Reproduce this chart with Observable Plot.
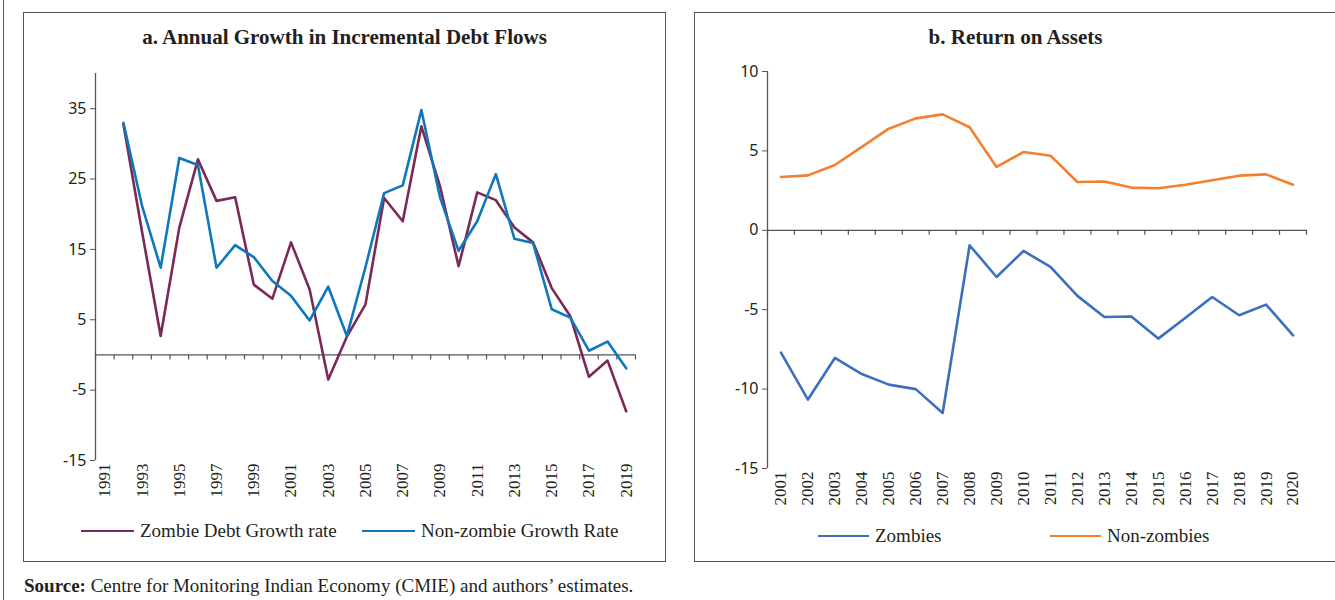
<!DOCTYPE html>
<html><head><meta charset="utf-8">
<script src="https://cdn.jsdelivr.net/npm/d3@7"></script>
<script src="https://cdn.jsdelivr.net/npm/@observablehq/plot@0.6"></script>
<style>
body{margin:0;width:1335px;height:600px;position:relative;overflow:hidden;background:#fff;font-family:"Liberation Serif",serif;color:#231f20;}
.outer{position:absolute;left:3px;top:0;width:0;height:600px;border-left:1.5px solid #555}
.box{position:absolute;border:1.5px solid #555;box-sizing:border-box;top:12px;height:550px}
.title{position:absolute;font-weight:bold;font-size:21px;text-align:center;top:25px}
.leg{position:absolute;display:flex;align-items:center;font-size:19px;white-space:nowrap;line-height:22px}
.sw{display:inline-block;height:0;border-top:2.5px solid;margin-right:6px}
.chart{position:absolute}
.src{position:absolute;left:24px;top:575px;font-size:19px;white-space:nowrap}
</style></head><body>
<div class="outer"></div>
<div class="box" style="left:23px;width:643px"></div>
<div class="box" style="left:694px;width:645px"></div>
<div class="title" style="left:23px;width:643px">a. Annual Growth in Incremental Debt Flows</div>
<div class="title" style="left:694px;width:643px">b. Return on Assets</div>
<div id="chartA" class="chart" style="left:40px;top:60px"></div>
<div id="chartB" class="chart" style="left:715px;top:60px"></div>
<div id="legA"></div>
<div id="legB"></div>
<div class="src"><b>Source:</b> Centre for Monitoring Indian Economy (CMIE) and authors’ estimates.</div>
<script>
// ---- Panel a data ----
const yearsA = [1992,1993,1994,1995,1996,1997,1998,1999,2000,2001,2002,2003,2004,2005,2006,2007,2008,2009,2010,2011,2012,2013,2014,2015,2016,2017,2018,2019];
const zombieDebtGrowth = [32.8,17.5,2.7,18.1,27.8,21.9,22.4,10.0,8.0,16.0,9.3,-3.5,2.6,7.2,22.3,19.0,32.5,24.0,12.6,23.1,22.0,18.1,16.0,9.5,5.5,-3.1,-0.8,-8.0];
const nonZombieGrowth = [33.0,21.2,12.4,28.0,27.0,12.4,15.6,13.9,10.5,8.4,4.9,9.7,2.7,12.5,23.0,24.1,34.8,22.4,14.8,19.0,25.7,16.5,15.9,6.5,5.3,0.6,1.9,-1.9];
const categoriesA = [1991,1992,1993,1994,1995,1996,1997,1998,1999,2000,2001,2002,2003,2004,2005,2006,2007,2008,2009,2010,2011,2012,2013,2014,2015,2016,2017,2018,2019];
const xTickLabelsA = [1991,1993,1995,1997,1999,2001,2003,2005,2007,2009,2011,2013,2015,2017,2019];
const yTicksA = [-15,-5,5,15,25,35];
const yDomainA = [-15,40];
const seriesA = ["Zombie Debt Growth rate","Non-zombie Growth Rate"];

// ---- Panel b data ----
const yearsB = [2001,2002,2003,2004,2005,2006,2007,2008,2009,2010,2011,2012,2013,2014,2015,2016,2017,2018,2019,2020];
const zombiesROA = [-7.7,-10.66,-8.04,-9.05,-9.72,-10.0,-11.5,-0.94,-2.94,-1.3,-2.31,-4.13,-5.46,-5.43,-6.82,-5.52,-4.2,-5.35,-4.68,-6.61];
const nonZombiesROA = [3.36,3.46,4.11,5.25,6.4,7.05,7.3,6.49,3.99,4.93,4.7,3.04,3.07,2.69,2.65,2.87,3.15,3.44,3.52,2.87];
const xTickLabelsB = yearsB;
const yTicksB = [-15,-10,-5,0,5,10];
const yDomainB = [-15,10];
const seriesB = ["Zombies","Non-zombies"];

const colA = ["#7a2a58","#0f77bd"];
const colB = ["#3c6fbd","#f4802f"];
const axisCol = "#555";
const textCol = "#231f20";

function panel({cats, years, s1, s2, cols, xTicks, yTicks, yDomain, width, height, ml, mr, mt, mb}) {
  const rows = [];
  years.forEach((y,i)=>{ rows.push({year:y, v:s1[i], s:0}); rows.push({year:y, v:s2[i], s:1}); });
  const lo = cats[0]-0.5, hi = cats[cats.length-1]+0.5;
  const bounds = cats.map(c=>c-0.5).concat([hi]);
  const plotH = height - mt - mb;
  const tickLen = 5 * (yDomain[1]-yDomain[0]) / plotH;
  return Plot.plot({
    width, height, marginLeft: ml, marginRight: mr, marginTop: mt, marginBottom: mb,
    x: {type:"linear", domain:[lo,hi], axis:null},
    y: {domain:yDomain, axis:null},
    marks: [
      Plot.ruleX([lo], {y1: yDomain[0], y2: yDomain[1], stroke: axisCol, strokeWidth: 1.3}),
      Plot.ruleY([0], {stroke: axisCol, strokeWidth: 1.3}),
      Plot.ruleX(bounds, {x: d=>d, y1: 0, y2: -tickLen, stroke: axisCol, strokeWidth: 1.2}),
      Plot.axisY(yTicks, {anchor:"left", tickSize:5, tickPadding:4, tickFormat:d=>String(d), stroke: axisCol, fill: textCol, fontSize: 16, fontFamily:"Noto Sans, sans-serif", label:null}),
      Plot.axisX(xTicks, {anchor:"bottom", tickSize:0, tickPadding:3, tickRotate:-90, tickFormat:d=>String(d), fill: textCol, fontSize: 17, fontFamily:"Liberation Serif, serif", label:null}),
      Plot.line(rows.filter(r=>r.s===0), {x:"year", y:"v", stroke: cols[0], strokeWidth: 2.6}),
      Plot.line(rows.filter(r=>r.s===1), {x:"year", y:"v", stroke: cols[1], strokeWidth: 2.6})
    ]
  });
}

document.getElementById("chartA").append(panel({
  cats: categoriesA, years: yearsA, s1: zombieDebtGrowth, s2: nonZombieGrowth, cols: colA,
  xTicks: xTickLabelsA, yTicks: yTicksA, yDomain: yDomainA,
  width: 610, height: 450, ml: 55, mr: 15, mt: 13, mb: 50
}));
document.getElementById("chartB").append(panel({
  cats: yearsB, years: yearsB, s1: nonZombiesROA, s2: zombiesROA, cols: [colB[1], colB[0]],
  xTicks: xTickLabelsB, yTicks: yTicksB, yDomain: yDomainB,
  width: 610, height: 460, ml: 52, mr: 19, mt: 11, mb: 52
}));

function legendItem(parent, left, top, label, color, lineW) {
  const d = document.createElement("div");
  d.className = "leg";
  d.style.left = left + "px"; d.style.top = top + "px";
  const s = document.createElement("span");
  s.className = "sw"; s.style.borderColor = color; s.style.width = lineW + "px";
  d.append(s, document.createTextNode(label));
  parent.append(d);
}
const la = document.getElementById("legA");
legendItem(la, 81, 520, seriesA[0], colA[0], 53);
legendItem(la, 362, 520, seriesA[1], colA[1], 53);
const lb = document.getElementById("legB");
legendItem(lb, 818, 525, seriesB[0], colB[0], 51);
legendItem(lb, 1050, 525, seriesB[1], colB[1], 51);
</script>
</body></html>
